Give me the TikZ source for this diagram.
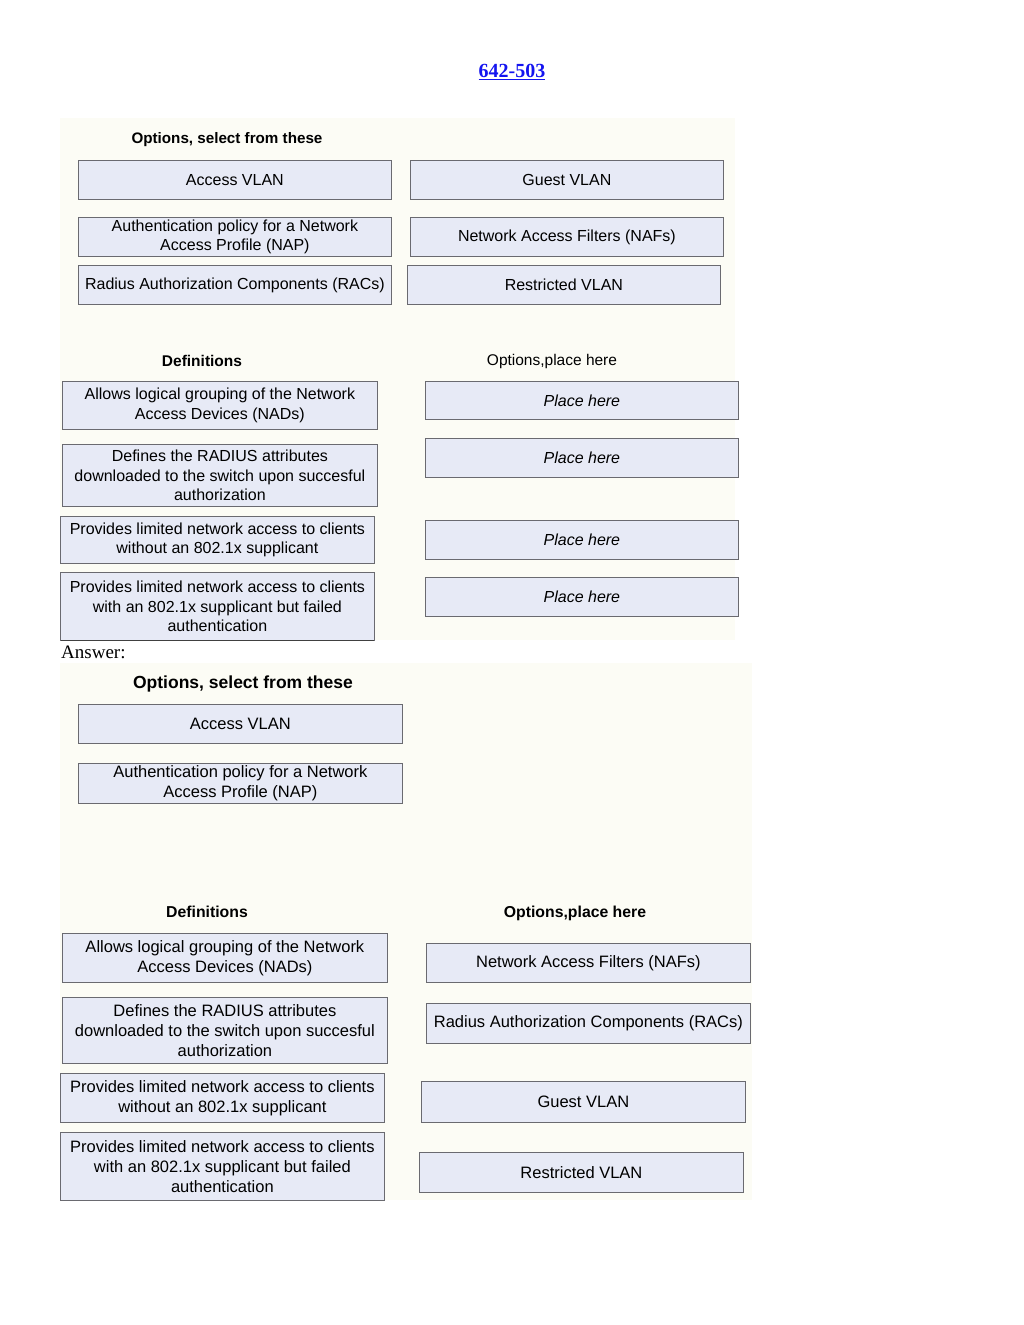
\documentclass[tikz,border=0pt]{standalone}
\usepackage{fontspec}
\setmainfont{Liberation Sans}
\newfontfamily\seriffont{Liberation Serif}
\usetikzlibrary{shadows}
\definecolor{boxfill}{HTML}{E7EAF6}
\definecolor{boxline}{HTML}{6A6A70}
\definecolor{panelbg}{HTML}{FCFCF5}
\definecolor{titleblue}{HTML}{1414F0}
\tikzset{
  optbox/.style={draw=boxline, line width=0.8pt, fill=boxfill, anchor=north west,
    inner sep=0pt, align=center, font=\fontsize{16}{19.5}\selectfont,
    drop shadow={shadow xshift=1pt, shadow yshift=-1pt, fill=black!75, opacity=1}},
  bigbox/.style={optbox, font=\fontsize{16.5}{20}\selectfont},
  openbox/.style={optbox, draw=none, drop shadow={shadow xshift=0pt, shadow yshift=0pt, opacity=0}},
  boxedge/.style={draw=boxline, line width=0.8pt},
  header/.style={inner sep=0pt, font=\fontsize{15.5}{18}\selectfont},
  bigheader/.style={inner sep=0pt, font=\bfseries\fontsize{17.5}{20}\selectfont},
}
\begin{document}
\begin{tikzpicture}[x=1pt,y=-1pt]
\useasboundingbox[fill=white] (0,0) rectangle (1024,1325);
% title
\node[text=titleblue, font=\seriffont\bfseries\fontsize{20}{24}\selectfont] (title) at (512,72) {\underline{642-503}};
% panels
\fill[panelbg] (60,118) rectangle (735,640);
\fill[panelbg] (60,663) rectangle (752,1200);
% ---------- question ----------
\node[header, font=\bfseries\fontsize{15.2}{18}\selectfont] (qopt) at (227,140) {Options, select from these};
\node[optbox, minimum width=313pt, minimum height=39pt] (qav) at (78,160) {Access VLAN};
\node[optbox, minimum width=313pt, minimum height=39pt] (qgv) at (410,160) {Guest VLAN};
\node[optbox, minimum width=313pt, minimum height=39pt] (qap) at (78,217) {Authentication policy for a Network\\Access Profile (NAP)};
\node[optbox, minimum width=313pt, minimum height=39pt] (qnaf) at (410,217) {Network Access Filters (NAFs)};
\node[optbox, minimum width=313pt, minimum height=39pt] (qrac) at (78,265) {Radius Authorization Components (RACs)};
\node[optbox, minimum width=313pt, minimum height=39pt] (qrv) at (407,265) {Restricted VLAN};
\node[header, font=\bfseries\fontsize{15.5}{18}\selectfont] (qdef) at (202,361) {Definitions};
\node[header] (qplace) at (552,361) {Options,place here};
\node[optbox, minimum width=315pt, minimum height=48pt] (qd1) at (62,381) {Allows logical grouping of the Network\\Access Devices (NADs)};
\node[optbox, minimum width=315pt, minimum height=62pt] (qd2) at (62,444) {Defines the RADIUS attributes\\downloaded to the switch upon succesful\\authorization};
\node[optbox, minimum width=314pt, minimum height=47pt] (qd3) at (60,516) {Provides limited network access to clients\\without an 802.1x supplicant};
\node[openbox, minimum width=314pt, minimum height=68pt] (qd4) at (60,572) {Provides limited network access to clients\\with an 802.1x supplicant but failed\\authentication};
\draw[boxedge] (qd4.south west) |- (qd4.north east) -- (qd4.south east);
\node[optbox, minimum width=313pt, minimum height=38pt, font=\itshape\fontsize{16}{19.5}\selectfont] (qp1) at (425,381) {Place here};
\node[optbox, minimum width=313pt, minimum height=39pt, font=\itshape\fontsize{16}{19.5}\selectfont] (qp2) at (425,438) {Place here};
\node[optbox, minimum width=313pt, minimum height=39pt, font=\itshape\fontsize{16}{19.5}\selectfont] (qp3) at (425,520) {Place here};
\node[optbox, minimum width=313pt, minimum height=39pt, font=\itshape\fontsize{16}{19.5}\selectfont] (qp4) at (425,577) {Place here};
% ---------- answer ----------
\node[anchor=base west, inner sep=0pt, font=\seriffont\fontsize{19}{22}\selectfont] (ans) at (61,658) {Answer:};
\node[bigheader] (aopt) at (243,684) {Options, select from these};
\node[bigbox, minimum width=324pt, minimum height=39pt] (aav) at (78,704) {Access VLAN};
\node[bigbox, minimum width=324pt, minimum height=40pt] (aap) at (78,763) {Authentication policy for a Network\\Access Profile (NAP)};
\node[header, font=\bfseries\fontsize{15.8}{18}\selectfont] (adef) at (207,912) {Definitions};
\node[header, font=\bfseries\fontsize{15.8}{18}\selectfont] (aplace) at (575,913) {Options,place here};
\node[bigbox, minimum width=325pt, minimum height=49pt] (ad1) at (62,933) {Allows logical grouping of the Network\\Access Devices (NADs)};
\node[bigbox, minimum width=325pt, minimum height=66pt] (ad2) at (62,997) {Defines the RADIUS attributes\\downloaded to the switch upon succesful\\authorization};
\node[bigbox, minimum width=324pt, minimum height=49pt] (ad3) at (60,1073) {Provides limited network access to clients\\without an 802.1x supplicant};
\node[bigbox, minimum width=324pt, minimum height=68pt] (ad4) at (60,1132) {Provides limited network access to clients\\with an 802.1x supplicant but failed\\authentication};
\node[bigbox, minimum width=324pt, minimum height=39pt] (anaf) at (426,943) {Network Access Filters (NAFs)};
\node[bigbox, minimum width=324pt, minimum height=40pt] (arac) at (426,1003) {Radius Authorization Components (RACs)};
\node[bigbox, minimum width=324pt, minimum height=41pt] (agv) at (421,1081) {Guest VLAN};
\node[bigbox, minimum width=324pt, minimum height=40pt] (arv) at (419,1152) {Restricted VLAN};
\end{tikzpicture}
\end{document}
